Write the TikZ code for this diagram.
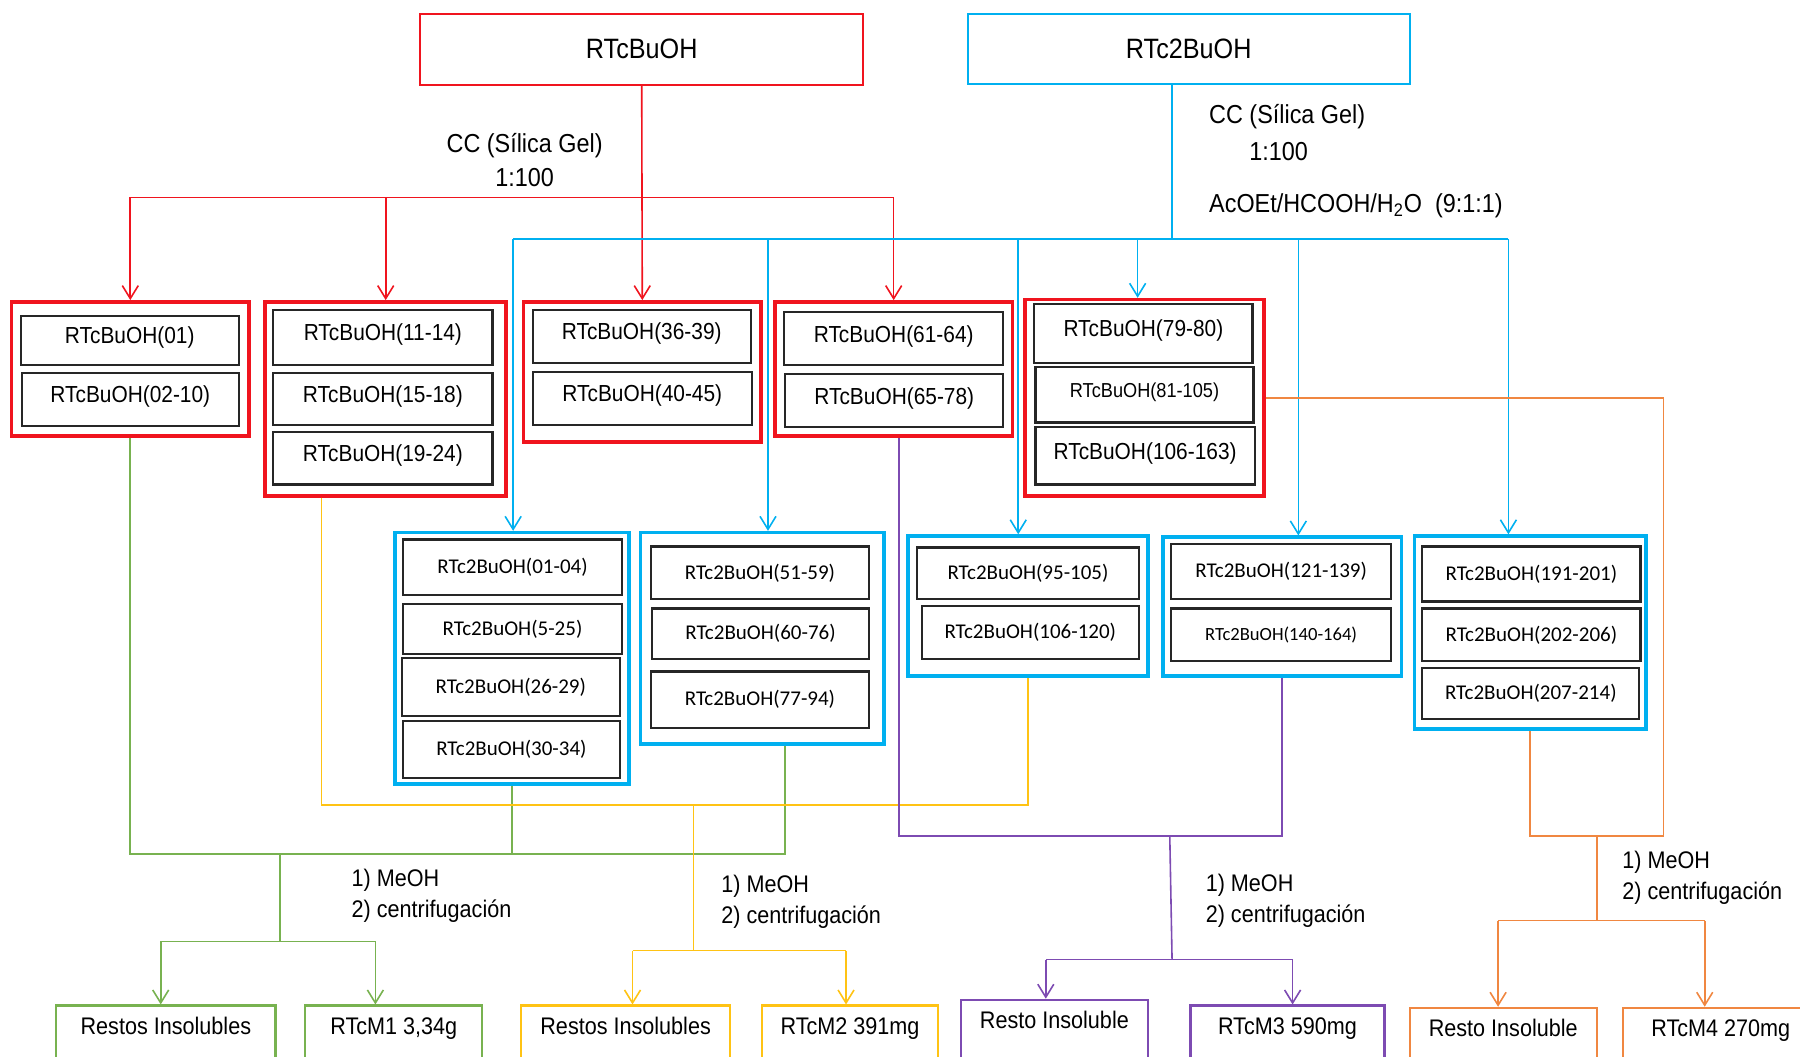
\documentclass[tikz,border=0pt]{standalone}
\usepackage{fontspec}
\setmainfont{Liberation Sans}[FakeStretch=0.9]
\newfontfamily\calibrifont{Carlito}
\usetikzlibrary{positioning, calc, arrows.meta}

\definecolor{fracred}{RGB}{240,20,30}
\definecolor{fracblue}{RGB}{0,176,240}
\definecolor{mgreen}{RGB}{120,178,80}
\definecolor{myellow}{RGB}{255,195,20}
\definecolor{mpurple}{RGB}{125,75,178}
\definecolor{morange}{RGB}{240,135,65}
\newcommand{\pxu}{0.574pt}

\begin{document}
\begin{tikzpicture}[x=0.574pt, y=-0.574pt,
    sz/.style 2 args={minimum width=#1*\pxu, minimum height=#2*\pxu},
    wd/.style={minimum width=#1*\pxu},
    topbox/.style={draw=#1, line width=0.9pt, inner sep=0pt, font=\fontsize{14}{16}\selectfont},
    grp/.style={draw=#1, line width=1.8pt, inner sep=0pt},
    redfrac/.style={draw=black!85, line width=1.1pt, inner sep=0pt, text depth=5pt,
                    font=\fontsize{11.6}{13}\selectfont},
    bluefrac/.style={draw=black!85, line width=1.1pt, inner sep=0pt,
                     font=\calibrifont\fontsize{10.5}{12}\selectfont},
    endbox/.style={draw=#1, line width=1.1pt, anchor=north, inner ysep=0pt,
                   text height=14.5pt, text depth=40pt, font=\fontsize{12}{14}\selectfont},
    conn/.style={draw=#1, line width=0.8pt},
    arr/.style={draw=#1, line width=0.8pt, -{Straight Barb[length=6.5pt, width=8pt]}},
    condlabel/.style={anchor=west, inner xsep=0pt, font=\fontsize{13}{15}\selectfont},
    steplabel/.style={anchor=west, inner xsep=0pt, align=left, font=\fontsize{12}{15.5}\selectfont}]

    \useasboundingbox (0,0) rectangle (1568,920);
    \clip (0,0) rectangle (1568,920);

    % --- TOP EXTRACTS ---
    \node[topbox=fracred, sz={386}{62}] (cbuoh) at (559,43) {RTcBuOH};
    \node[topbox=fracblue, sz={385}{61}] (c2buoh) at (1035.5,42.5) {RTc2BuOH};

    % Column conditions
    \node[align=center, font=\fontsize{13}{16.6}\selectfont] (rcond) at (457,139.5)
        {CC (Sílica Gel)\\1:100};
    \node[condlabel] (bcond1) at (1053,102) {CC (Sílica Gel)};
    \node[condlabel] (bcond2) at (1088,132) {1:100};
    \node[condlabel] (bcond3) at (1053,179) {AcOEt/HCOOH/H\textsubscript{2}O\ \ (9:1:1)};

    % --- RED GROUPS (RTcBuOH fractions) ---
    \node[grp=fracred, sz={207}{117}] (g1) at (113.5,321.5) {};
    \node[redfrac, sz={190}{43}] (f01) at (113,296.5) {RTcBuOH(01)};
    \node[redfrac, sz={189}{46}] (f02) at (113.5,348) {RTcBuOH(02-10)};

    \node[grp=fracred, sz={210}{169}] (g2) at (336,347.5) {};
    \node[redfrac, sz={191}{48}] (f11) at (333.5,294) {RTcBuOH(11-14)};
    \node[redfrac, sz={191}{45}] (f15) at (333.5,347.5) {RTcBuOH(15-18)};
    \node[redfrac, sz={191}{46}] (f19) at (333.5,399) {RTcBuOH(19-24)};

    \node[grp=fracred, sz={207}{122}] (g3) at (559.5,324) {};
    \node[redfrac, sz={190}{46}] (f36) at (559,293) {RTcBuOH(36-39)};
    \node[redfrac, sz={191}{46}] (f40) at (559.5,347) {RTcBuOH(40-45)};

    \node[grp=fracred, sz={207}{117}] (g4) at (778.5,321.5) {};
    \node[redfrac, sz={191}{46}] (f61) at (778.5,295) {RTcBuOH(61-64)};
    \node[redfrac, sz={190}{46}] (f65) at (779,349) {RTcBuOH(65-78)};

    \node[grp=fracred, sz={208}{171}] (g5) at (997,346.5) {};
    \node[redfrac, sz={190}{51}] (f79) at (996,290.5) {RTcBuOH(79-80)};
    \node[redfrac, sz={190}{48}, font=\fontsize{10.1}{12}\selectfont] (f81) at (997,344) {RTcBuOH(81-105)};
    \node[redfrac, sz={191}{50}] (f106) at (997.5,397) {RTcBuOH(106-163)};

    % --- BLUE GROUPS (RTc2BuOH fractions) ---
    \node[grp=fracblue, sz={204}{219}] (b1) at (446,573.5) {};
    \node[bluefrac, sz={191}{48}] (h01) at (446.5,494) {RTc2BuOH(01-04)};
    \node[bluefrac, sz={191}{44}] (h05) at (446.5,548) {RTc2BuOH(5-25)};
    \node[bluefrac, sz={190}{51}] (h26) at (445,598.5) {RTc2BuOH(26-29)};
    \node[bluefrac, sz={189}{50}] (h30) at (445.5,653) {RTc2BuOH(30-34)};

    \node[grp=fracblue, sz={212}{184}] (b2) at (664,556) {};
    \node[bluefrac, sz={190}{46}] (h51) at (662,499) {RTc2BuOH(51-59)};
    \node[bluefrac, sz={189}{44}] (h60) at (662.5,552) {RTc2BuOH(60-76)};
    \node[bluefrac, sz={190}{49}] (h77) at (662,609.5) {RTc2BuOH(77-94)};

    \node[grp=fracblue, sz={209}{122}] (b3) at (895.5,528) {};
    \node[bluefrac, sz={193}{45}] (h95) at (895.5,499.5) {RTc2BuOH(95-105)};
    \node[bluefrac, sz={189}{46}] (h106) at (897.5,551) {RTc2BuOH(106-120)};

    \node[grp=fracblue, sz={208}{121}] (b4) at (1117,528.5) {};
    \node[bluefrac, sz={192}{48}] (h121) at (1116,498) {RTc2BuOH(121-139)};
    \node[bluefrac, sz={192}{46}, font=\calibrifont\fontsize{9.3}{11}\selectfont] (h140) at (1116,553) {RTc2BuOH(140-164)};

    \node[grp=fracblue, sz={202}{168}] (b5) at (1333,551) {};
    \node[bluefrac, sz={190}{48}] (h191) at (1334,500) {RTc2BuOH(191-201)};
    \node[bluefrac, sz={190}{46}] (h202) at (1334,553) {RTc2BuOH(202-206)};
    \node[bluefrac, sz={189}{44}] (h207) at (1333.5,604) {RTc2BuOH(207-214)};

    % --- RED CONNECTORS ---
    \coordinate (rbus) at (559,172);
    \draw[conn=fracred] (g1.north |- rbus) -- (g4.north |- rbus);
    \draw[arr=fracred] (cbuoh.south) -- (g3.north);
    \draw[arr=fracred] (g1.north |- rbus) -- (g1.north);
    \draw[arr=fracred] (g2.north |- rbus) -- (g2.north);
    \draw[arr=fracred] (g4.north |- rbus) -- (g4.north);

    % --- BLUE CONNECTORS ---
    \coordinate (bbus) at (1021,208);
    \coordinate (bx1) at (447,208);
    \coordinate (bx2) at (669,208);
    \coordinate (bx3) at (887,208);
    \coordinate (bx4) at (991,208);
    \coordinate (bx5) at (1131,208);
    \coordinate (bx6) at (1314,208);
    \draw[conn=fracblue] (c2buoh.south -| bbus) -- (bbus);
    \draw[conn=fracblue] (bx1) -- (bx6);
    \draw[arr=fracblue] (bx1) -- (bx1 |- b1.north);
    \draw[arr=fracblue] (bx2) -- (bx2 |- b2.north);
    \draw[arr=fracblue] (bx3) -- (bx3 |- b3.north);
    \draw[arr=fracblue] (bx4) -- (bx4 |- g5.north);
    \draw[arr=fracblue] (bx5) -- (bx5 |- b4.north);
    \draw[arr=fracblue] (bx6) -- (bx6 |- b5.north);

    % --- BOTTOM PRODUCTS ---
    \node[endbox=mgreen, wd=191] (res1) at (144.5,875) {Restos Insolubles};
    \node[endbox=mgreen, wd=154] (cm1) at (343,875) {RTcM1 3,34g};
    \node[endbox=myellow, wd=182] (res2) at (545,875) {Restos Insolubles};
    \node[endbox=myellow, wd=153] (cm2) at (740.5,875) {RTcM2 391mg};
    \node[endbox=mpurple, wd=163] (res3) at (918.5,870) {Resto Insoluble};
    \node[endbox=mpurple, wd=169] (cm3) at (1121.5,875) {RTcM3 590mg};
    \node[endbox=morange, wd=163] (res4) at (1309.5,877) {Resto Insoluble};
    \node[endbox=morange, wd=170] (cm4) at (1499,877) {RTcM4 270mg};

    % --- GREEN BRANCH (RTcM1) ---
    \coordinate (gbus) at (244,744);
    \coordinate (gx2) at (684,744);
    \coordinate (gsplit) at (244,820);
    \coordinate (ga) at (140,820);
    \coordinate (gb) at (327,820);
    \draw[conn=mgreen] (g1.south) -- (g1.south |- gbus) -- (gx2) -- (gx2 |- b2.south);
    \draw[conn=mgreen] (b1.south) -- (b1.south |- gbus);
    \draw[conn=mgreen] (gbus) -- (gsplit);
    \draw[conn=mgreen] (ga) -- (gb);
    \draw[arr=mgreen] (ga) -- (ga |- res1.north);
    \draw[arr=mgreen] (gb) -- (gb |- cm1.north);
    \node[steplabel] (gstep) at (306,780.5) {1) MeOH\\2) centrifugación};

    % --- YELLOW BRANCH (RTcM2) ---
    \coordinate (ybus) at (604,701);
    \coordinate (yx1) at (280,701);
    \coordinate (ysplit) at (604,828);
    \coordinate (ya) at (551,828);
    \coordinate (yb) at (737,828);
    \draw[conn=myellow] (yx1 |- g2.south) -- (yx1) -- (b3.south |- ybus) -- (b3.south);
    \draw[conn=myellow] (ybus) -- (ysplit);
    \draw[conn=myellow] (ya) -- (yb);
    \draw[arr=myellow] (ya) -- (ya |- res2.north);
    \draw[arr=myellow] (yb) -- (yb |- cm2.north);
    \node[steplabel] (ystep) at (628,785.5) {1) MeOH\\2) centrifugación};

    % --- PURPLE BRANCH (RTcM3) ---
    \coordinate (pbus) at (1019,728);
    \coordinate (px1) at (783,728);
    \coordinate (psplit) at (1021,836);
    \coordinate (pa) at (911,836);
    \coordinate (pb) at (1126,836);
    \draw[conn=mpurple] (px1 |- g4.south) -- (px1) -- (b4.south |- pbus) -- (b4.south);
    \draw[conn=mpurple] (pbus) -- (psplit);
    \draw[conn=mpurple] (pa) -- (pb);
    \draw[arr=mpurple] (pa) -- (pa |- res3.north);
    \draw[arr=mpurple] (pb) -- (pb |- cm3.north);
    \node[steplabel] (pstep) at (1050,784.5) {1) MeOH\\2) centrifugación};

    % --- ORANGE BRANCH (RTcM4) ---
    \coordinate (ocorner) at (1449,346.5);
    \coordinate (oright) at (1449,728);
    \coordinate (obus) at (1391,728);
    \coordinate (osplit) at (1391,802);
    \coordinate (oa) at (1305,802);
    \coordinate (ob) at (1485,802);
    \draw[conn=morange] (g5.east) -- (ocorner) -- (oright) -- (b5.south |- oright) -- (b5.south);
    \draw[conn=morange] (obus) -- (osplit);
    \draw[conn=morange] (oa) -- (ob);
    \draw[arr=morange] (oa) -- (oa |- res4.north);
    \draw[arr=morange] (ob) -- (ob |- cm4.north);
    \node[steplabel] (ostep) at (1413,764.5) {1) MeOH\\2) centrifugación};

\end{tikzpicture}
\end{document}
